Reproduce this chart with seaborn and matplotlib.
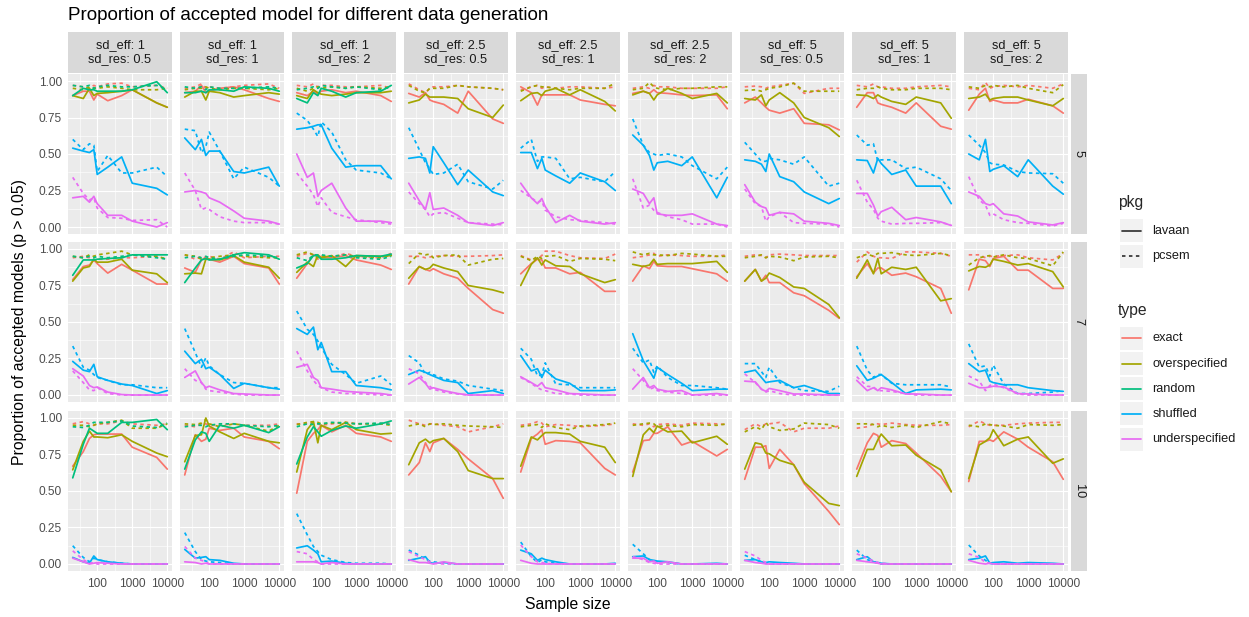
import numpy as np
import pandas as pd
import matplotlib
matplotlib.use("Agg")
import matplotlib.pyplot as plt
import seaborn as sns
from matplotlib.lines import Line2D

# ---------------- data ----------------
sample_sizes = [20, 40, 60, 80, 100, 200, 500, 1000, 5000, 10000]
n_latent = [5, 7, 10]                     # facet rows
sd_eff = [1, 1, 1, 2.5, 2.5, 2.5, 5, 5, 5]  # facet columns
sd_res = [0.5, 1, 2, 0.5, 1, 2, 0.5, 1, 2]
types = ["exact", "overspecified", "random", "shuffled", "underspecified"]
pkgs = ["lavaan", "pcsem"]

# each list: 27 panels (row-major: rows 5,7,10 x the 9 columns), 10 sample sizes each
exact_lavaan = [
    [0.90, 0.93, 0.93, 0.87, 0.91, 0.865, 0.90, 0.94, 0.85, 0.82],
    [0.92, 0.93, 0.97, 0.92, 0.93, 0.95, 0.96, 0.94, 0.88, 0.86],
    [0.92, 0.90, 0.93, 0.91, 0.93, 0.94, 0.92, 0.93, 0.90, 0.86],
    [0.915, 0.89, 0.92, 0.87, 0.86, 0.84, 0.78, 0.93, 0.74, 0.71],
    [0.96, 0.92, 0.835, 0.905, 0.905, 0.905, 0.905, 0.87, 0.84, 0.83],
    [0.915, 0.93, 0.915, 0.94, 0.92, 0.915, 0.905, 0.90, 0.905, 0.81],
    [0.85, 0.89, 0.85, 0.82, 0.80, 0.78, 0.81, 0.71, 0.70, 0.665],
    [0.82, 0.92, 0.92, 0.85, 0.84, 0.82, 0.78, 0.85, 0.69, 0.67],
    [0.80, 0.91, 0.95, 0.86, 0.87, 0.85, 0.85, 0.875, 0.83, 0.78],
    [0.79, 0.88, 0.89, 0.925, 0.90, 0.835, 0.895, 0.855, 0.76, 0.76],
    [0.87, 0.84, 0.925, 0.94, 0.93, 0.91, 0.95, 0.90, 0.87, 0.76],
    [0.80, 0.90, 0.96, 0.95, 0.94, 0.94, 0.955, 0.925, 0.89, 0.86],
    [0.76, 0.88, 0.86, 0.85, 0.865, 0.83, 0.80, 0.73, 0.585, 0.56],
    [0.83, 0.90, 0.93, 0.925, 0.87, 0.87, 0.83, 0.84, 0.71, 0.71],
    [0.78, 0.885, 0.865, 0.915, 0.885, 0.88, 0.88, 0.865, 0.83, 0.78],
    [0.78, 0.86, 0.78, 0.82, 0.77, 0.77, 0.70, 0.68, 0.58, 0.525],
    [0.81, 0.90, 0.835, 0.87, 0.87, 0.82, 0.835, 0.81, 0.73, 0.56],
    [0.72, 0.93, 0.92, 0.88, 0.935, 0.95, 0.855, 0.855, 0.73, 0.73],
    [0.67, 0.77, 0.86, 0.885, 0.89, 0.89, 0.89, 0.80, 0.73, 0.65],
    [0.61, 0.885, 0.84, 0.855, 0.93, 0.915, 0.93, 0.87, 0.84, 0.79],
    [0.485, 0.84, 0.895, 0.92, 0.95, 0.905, 0.95, 0.895, 0.87, 0.84],
    [0.61, 0.695, 0.83, 0.77, 0.83, 0.86, 0.785, 0.72, 0.585, 0.45],
    [0.63, 0.86, 0.89, 0.92, 0.82, 0.845, 0.84, 0.83, 0.655, 0.61],
    [0.63, 0.845, 0.85, 0.895, 0.895, 0.94, 0.815, 0.84, 0.74, 0.785],
    [0.58, 0.80, 0.80, 0.81, 0.655, 0.785, 0.68, 0.55, 0.36, 0.27],
    [0.65, 0.83, 0.895, 0.88, 0.80, 0.845, 0.825, 0.76, 0.60, 0.495],
    [0.565, 0.84, 0.84, 0.85, 0.84, 0.905, 0.855, 0.80, 0.70, 0.58],
]
exact_pcsem = [
    [0.97, 0.96, 0.95, 0.97, 0.96, 0.98, 0.985, 0.96, 0.97, 0.95],
    [0.95, 0.96, 0.98, 0.95, 0.96, 0.95, 0.96, 0.97, 0.98, 0.95],
    [0.97, 0.96, 0.98, 0.96, 0.97, 0.97, 0.96, 0.96, 0.97, 0.95],
    [0.98, 0.94, 0.92, 0.95, 0.96, 0.96, 0.97, 0.96, 0.95, 0.94],
    [0.94, 0.96, 0.97, 0.95, 0.96, 0.95, 0.96, 0.96, 0.95, 0.96],
    [0.95, 0.96, 0.95, 0.97, 0.96, 0.96, 0.95, 0.95, 0.95, 0.96],
    [0.96, 0.965, 0.96, 0.95, 0.96, 0.97, 0.985, 0.915, 0.95, 0.95],
    [0.97, 0.96, 0.98, 0.96, 0.96, 0.95, 0.95, 0.96, 0.97, 0.96],
    [0.95, 0.94, 0.99, 0.95, 0.96, 0.97, 0.96, 0.97, 0.95, 0.98],
    [0.94, 0.95, 0.94, 0.92, 0.93, 0.93, 0.94, 0.94, 0.95, 0.93],
    [0.96, 0.93, 0.95, 0.94, 0.95, 0.93, 0.98, 0.94, 0.95, 0.95],
    [0.95, 0.97, 0.96, 0.93, 0.95, 0.94, 0.97, 0.95, 0.94, 0.97],
    [0.95, 0.95, 0.94, 0.945, 0.95, 0.955, 0.95, 0.95, 0.955, 0.96],
    [0.955, 0.925, 0.935, 0.955, 0.985, 0.985, 0.955, 0.94, 0.935, 0.965],
    [0.94, 0.95, 0.96, 0.97, 0.95, 0.96, 0.955, 0.95, 0.95, 0.96],
    [0.95, 0.96, 0.955, 0.94, 0.96, 0.965, 0.96, 0.955, 0.955, 0.955],
    [0.91, 0.98, 0.95, 0.94, 0.94, 0.935, 0.98, 0.98, 0.97, 0.95],
    [0.96, 0.96, 0.94, 0.95, 0.95, 0.955, 0.96, 0.94, 0.925, 0.97],
    [0.96, 0.975, 0.96, 0.95, 0.96, 0.96, 0.98, 0.96, 0.95, 0.96],
    [0.95, 0.94, 0.96, 0.96, 0.95, 0.95, 0.96, 0.95, 0.95, 0.96],
    [0.96, 0.96, 0.97, 0.96, 0.95, 0.96, 0.97, 0.96, 0.96, 0.97],
    [0.985, 0.96, 0.95, 0.96, 0.96, 0.95, 0.94, 0.905, 0.94, 0.96],
    [0.95, 0.96, 0.975, 0.965, 0.94, 0.955, 0.95, 0.94, 0.95, 0.96],
    [0.96, 0.95, 0.96, 0.94, 0.955, 0.96, 0.95, 0.965, 0.96, 0.955],
    [0.92, 0.96, 0.94, 0.96, 0.96, 0.97, 0.905, 0.93, 0.93, 0.945],
    [0.93, 0.94, 0.96, 0.96, 0.955, 0.965, 0.955, 0.95, 0.95, 0.955],
    [0.94, 0.98, 0.96, 0.95, 0.95, 0.95, 0.96, 0.965, 0.97, 0.97],
]
overspecified_lavaan = [
    [0.90, 0.88, 0.95, 0.90, 0.915, 0.92, 0.93, 0.94, 0.85, 0.82],
    [0.89, 0.93, 0.93, 0.87, 0.93, 0.92, 0.89, 0.90, 0.92, 0.91],
    [0.90, 0.88, 0.94, 0.92, 0.91, 0.90, 0.91, 0.92, 0.92, 0.93],
    [0.85, 0.87, 0.91, 0.89, 0.89, 0.89, 0.88, 0.81, 0.75, 0.835],
    [0.865, 0.915, 0.92, 0.90, 0.93, 0.95, 0.905, 0.94, 0.86, 0.795],
    [0.905, 0.93, 0.915, 0.87, 0.905, 0.95, 0.915, 0.88, 0.915, 0.85],
    [0.88, 0.87, 0.905, 0.83, 0.87, 0.92, 0.85, 0.75, 0.68, 0.62],
    [0.905, 0.90, 0.88, 0.905, 0.89, 0.86, 0.84, 0.89, 0.85, 0.745],
    [0.88, 0.89, 0.91, 0.87, 0.88, 0.89, 0.89, 0.87, 0.83, 0.88],
    [0.78, 0.87, 0.88, 0.93, 0.91, 0.91, 0.93, 0.855, 0.83, 0.77],
    [0.83, 0.835, 0.83, 0.93, 0.93, 0.925, 0.955, 0.91, 0.875, 0.80],
    [0.84, 0.91, 0.88, 0.96, 0.94, 0.955, 0.88, 0.955, 0.95, 0.955],
    [0.80, 0.88, 0.86, 0.87, 0.895, 0.87, 0.845, 0.75, 0.72, 0.70],
    [0.75, 0.895, 0.94, 0.89, 0.925, 0.885, 0.88, 0.83, 0.77, 0.79],
    [0.895, 0.88, 0.89, 0.93, 0.895, 0.90, 0.90, 0.90, 0.915, 0.84],
    [0.78, 0.86, 0.78, 0.80, 0.835, 0.805, 0.74, 0.73, 0.62, 0.53],
    [0.80, 0.925, 0.83, 0.935, 0.83, 0.875, 0.86, 0.875, 0.645, 0.66],
    [0.85, 0.88, 0.875, 0.89, 0.93, 0.915, 0.89, 0.90, 0.845, 0.74],
    [0.645, 0.84, 0.91, 0.87, 0.87, 0.865, 0.885, 0.84, 0.76, 0.735],
    [0.70, 0.88, 0.885, 1.0, 0.945, 0.905, 0.86, 0.895, 0.84, 0.83],
    [0.63, 0.92, 0.975, 0.83, 0.95, 0.92, 0.97, 0.92, 0.89, 0.895],
    [0.68, 0.83, 0.855, 0.83, 0.845, 0.86, 0.77, 0.64, 0.585, 0.585],
    [0.67, 0.87, 0.85, 0.88, 0.90, 0.90, 0.89, 0.84, 0.80, 0.695],
    [0.60, 0.885, 0.93, 0.90, 0.945, 0.905, 0.91, 0.83, 0.875, 0.82],
    [0.65, 0.83, 0.82, 0.76, 0.755, 0.71, 0.68, 0.56, 0.415, 0.40],
    [0.60, 0.785, 0.785, 0.85, 0.89, 0.81, 0.815, 0.745, 0.645, 0.495],
    [0.585, 0.815, 0.84, 0.865, 0.92, 0.81, 0.855, 0.87, 0.69, 0.72],
]
overspecified_pcsem = [
    [0.95, 0.94, 0.96, 0.95, 0.95, 0.96, 0.95, 0.94, 0.94, 0.95],
    [0.94, 0.95, 0.95, 0.96, 0.95, 0.94, 0.95, 0.95, 0.94, 0.95],
    [0.95, 0.93, 0.95, 0.96, 0.95, 0.96, 0.95, 0.96, 0.95, 0.96],
    [0.97, 0.93, 0.92, 0.95, 0.95, 0.95, 0.97, 0.96, 0.95, 0.94],
    [0.93, 0.96, 0.97, 0.96, 0.96, 0.95, 0.94, 0.95, 0.95, 0.985],
    [0.94, 0.95, 0.99, 0.96, 0.95, 0.94, 0.95, 0.95, 0.96, 0.96],
    [0.935, 0.94, 0.93, 0.94, 0.95, 0.96, 0.985, 0.93, 0.93, 0.93],
    [0.94, 0.95, 0.95, 0.96, 0.95, 0.94, 0.94, 0.95, 0.95, 0.94],
    [0.96, 0.95, 0.97, 0.96, 0.97, 0.96, 0.97, 0.95, 0.92, 0.975],
    [0.95, 0.94, 0.96, 0.95, 0.96, 0.97, 0.985, 0.96, 0.95, 0.93],
    [0.96, 0.95, 0.93, 0.93, 0.94, 0.95, 0.96, 0.95, 0.94, 0.94],
    [0.96, 0.98, 0.96, 0.94, 0.95, 0.95, 0.96, 0.95, 0.94, 0.96],
    [0.90, 0.97, 0.96, 0.965, 0.94, 0.955, 0.96, 0.89, 0.93, 0.935],
    [0.95, 0.92, 0.95, 0.935, 0.95, 0.955, 0.915, 0.935, 0.93, 0.92],
    [0.98, 0.96, 0.97, 0.96, 0.96, 0.955, 0.97, 0.965, 0.95, 0.95],
    [0.94, 0.95, 0.96, 0.94, 0.95, 0.945, 0.92, 0.945, 0.95, 0.94],
    [0.94, 0.965, 0.95, 0.97, 0.97, 0.975, 0.96, 0.955, 0.97, 0.955],
    [0.89, 0.94, 0.95, 0.955, 0.945, 0.96, 0.94, 0.935, 0.885, 0.98],
    [0.95, 0.95, 0.94, 0.95, 0.96, 0.97, 0.985, 0.93, 0.93, 0.96],
    [0.96, 0.955, 0.965, 0.99, 0.96, 0.94, 0.96, 0.95, 0.91, 0.95],
    [0.955, 0.97, 0.975, 0.97, 0.96, 0.965, 0.97, 0.96, 0.96, 0.95],
    [0.945, 0.96, 0.94, 0.96, 0.955, 0.96, 0.95, 0.945, 0.94, 0.935],
    [0.94, 0.95, 0.955, 0.935, 0.96, 0.935, 0.92, 0.945, 0.955, 0.965],
    [0.95, 0.96, 0.965, 0.96, 0.94, 0.95, 0.94, 0.955, 0.95, 0.96],
    [0.905, 0.94, 0.92, 0.97, 0.94, 0.915, 0.925, 0.965, 0.955, 0.93],
    [0.96, 0.96, 0.955, 0.94, 0.95, 0.935, 0.95, 0.935, 0.975, 0.96],
    [0.95, 0.94, 0.96, 0.955, 0.95, 0.945, 0.93, 0.955, 0.95, 0.955],
]
# random only exists for sd_eff = 1 (columns 1-3), 9 panels: rows 5,7,10 x 3 columns
random_lavaan = [
    [0.90, 0.95, 0.94, 0.94, 0.93, 0.93, 0.93, 0.94, 0.995, 0.92],
    [0.92, 0.92, 0.93, 0.92, 0.94, 0.94, 0.93, 0.96, 0.95, 0.93],
    [0.88, 0.85, 0.92, 0.90, 0.95, 0.93, 0.89, 0.92, 0.93, 0.97],
    [0.82, 0.925, 0.925, 0.925, 0.93, 0.935, 0.94, 0.96, 0.96, 0.96],
    [0.77, 0.87, 0.925, 0.935, 0.925, 0.93, 0.96, 0.975, 0.96, 0.93],
    [0.87, 0.90, 0.955, 0.955, 0.93, 0.93, 0.94, 0.955, 0.95, 0.965],
    [0.59, 0.82, 0.93, 0.91, 0.895, 0.895, 0.97, 0.97, 0.99, 0.92],
    [0.65, 0.85, 0.905, 0.895, 0.84, 0.95, 0.93, 0.95, 0.90, 0.94],
    [0.685, 0.87, 0.94, 0.905, 0.875, 0.915, 0.945, 0.93, 0.96, 0.98],
]
random_pcsem = [
    [0.97, 0.96, 0.97, 0.95, 0.96, 0.97, 0.96, 0.96, 0.97, 0.94],
    [0.96, 0.95, 0.96, 0.94, 0.96, 0.95, 0.95, 0.95, 0.96, 0.95],
    [0.94, 0.95, 0.96, 0.95, 0.97, 0.96, 0.95, 0.96, 0.94, 0.96],
    [0.95, 0.94, 0.95, 0.94, 0.95, 0.94, 0.95, 0.96, 0.94, 0.93],
    [0.94, 0.95, 0.94, 0.95, 0.94, 0.93, 0.95, 0.96, 0.95, 0.94],
    [0.94, 0.92, 0.96, 0.96, 0.96, 0.95, 0.96, 0.94, 0.93, 0.95],
    [0.94, 0.935, 0.95, 0.97, 0.97, 0.97, 0.98, 0.945, 0.935, 0.965],
    [0.94, 0.95, 0.95, 0.94, 0.95, 0.96, 0.96, 0.95, 0.94, 0.95],
    [0.94, 0.96, 0.955, 0.96, 0.96, 0.97, 0.965, 0.96, 0.965, 0.955],
]
shuffled_lavaan = [
    [0.54, 0.52, 0.51, 0.53, 0.36, 0.41, 0.48, 0.30, 0.265, 0.22],
    [0.61, 0.53, 0.60, 0.49, 0.52, 0.52, 0.38, 0.37, 0.41, 0.28],
    [0.67, 0.68, 0.69, 0.70, 0.70, 0.54, 0.41, 0.42, 0.42, 0.33],
    [0.47, 0.48, 0.47, 0.37, 0.55, 0.44, 0.29, 0.39, 0.24, 0.215],
    [0.51, 0.51, 0.40, 0.47, 0.39, 0.35, 0.30, 0.37, 0.31, 0.25],
    [0.63, 0.56, 0.49, 0.39, 0.44, 0.45, 0.42, 0.48, 0.20, 0.34],
    [0.46, 0.45, 0.43, 0.38, 0.50, 0.345, 0.31, 0.24, 0.16, 0.195],
    [0.46, 0.455, 0.37, 0.47, 0.435, 0.36, 0.39, 0.28, 0.28, 0.16],
    [0.50, 0.46, 0.60, 0.38, 0.395, 0.42, 0.345, 0.46, 0.28, 0.225],
    [0.23, 0.17, 0.16, 0.21, 0.125, 0.10, 0.075, 0.065, 0.01, 0.03],
    [0.30, 0.215, 0.245, 0.18, 0.19, 0.14, 0.045, 0.08, 0.05, 0.04],
    [0.455, 0.415, 0.465, 0.31, 0.36, 0.16, 0.16, 0.065, 0.05, 0.035],
    [0.14, 0.17, 0.155, 0.14, 0.13, 0.10, 0.085, 0.01, 0.03, 0.01],
    [0.27, 0.165, 0.18, 0.12, 0.17, 0.11, 0.08, 0.03, 0.03, 0.035],
    [0.42, 0.235, 0.165, 0.115, 0.19, 0.14, 0.08, 0.03, 0.04, 0.04],
    [0.155, 0.17, 0.12, 0.085, 0.09, 0.10, 0.05, 0.065, 0.01, 0.01],
    [0.20, 0.10, 0.115, 0.13, 0.14, 0.085, 0.01, 0.035, 0.04, 0.035],
    [0.215, 0.16, 0.17, 0.095, 0.085, 0.07, 0.07, 0.05, 0.03, 0.025],
    [0.045, 0.015, 0.005, 0.055, 0.03, 0.015, 0.005, 0.0, 0.0, 0.0],
    [0.10, 0.04, 0.045, 0.05, 0.03, 0.025, 0.005, 0.0, 0.0, 0.0],
    [0.11, 0.125, 0.095, 0.07, 0.015, 0.02, 0.005, 0.0, 0.0, 0.0],
    [0.025, 0.04, 0.05, 0.01, 0.005, 0.01, 0.0, 0.0, 0.0, 0.0],
    [0.095, 0.07, 0.025, 0.04, 0.03, 0.015, 0.0, 0.0, 0.0, 0.005],
    [0.05, 0.055, 0.03, 0.025, 0.02, 0.015, 0.0, 0.0, 0.005, 0.0],
    [0.025, 0.03, 0.015, 0.01, 0.015, 0.01, 0.005, 0.0, 0.0, 0.0],
    [0.03, 0.05, 0.015, 0.01, 0.005, 0.0, 0.0, 0.0, 0.0, 0.0],
    [0.03, 0.04, 0.055, 0.005, 0.01, 0.015, 0.005, 0.01, 0.005, 0.0],
]
shuffled_pcsem = [
    [0.60, 0.53, 0.57, 0.56, 0.38, 0.49, 0.37, 0.37, 0.41, 0.345],
    [0.67, 0.66, 0.51, 0.55, 0.65, 0.52, 0.33, 0.41, 0.34, 0.28],
    [0.78, 0.73, 0.67, 0.62, 0.72, 0.65, 0.46, 0.39, 0.37, 0.33],
    [0.68, 0.53, 0.44, 0.40, 0.36, 0.37, 0.43, 0.31, 0.26, 0.32],
    [0.54, 0.60, 0.45, 0.48, 0.48, 0.47, 0.33, 0.34, 0.31, 0.38],
    [0.74, 0.56, 0.51, 0.50, 0.49, 0.50, 0.48, 0.42, 0.33, 0.41],
    [0.58, 0.50, 0.45, 0.45, 0.47, 0.46, 0.43, 0.48, 0.28, 0.30],
    [0.63, 0.56, 0.57, 0.45, 0.46, 0.46, 0.40, 0.41, 0.33, 0.25],
    [0.63, 0.56, 0.51, 0.44, 0.43, 0.425, 0.38, 0.37, 0.365, 0.30],
    [0.335, 0.19, 0.17, 0.14, 0.12, 0.10, 0.07, 0.07, 0.05, 0.05],
    [0.455, 0.29, 0.19, 0.255, 0.20, 0.14, 0.085, 0.08, 0.05, 0.05],
    [0.575, 0.45, 0.415, 0.37, 0.325, 0.21, 0.14, 0.08, 0.13, 0.07],
    [0.27, 0.22, 0.14, 0.155, 0.14, 0.11, 0.095, 0.065, 0.04, 0.03],
    [0.32, 0.245, 0.13, 0.14, 0.22, 0.075, 0.07, 0.05, 0.05, 0.05],
    [0.32, 0.22, 0.24, 0.155, 0.20, 0.12, 0.065, 0.065, 0.05, 0.04],
    [0.215, 0.215, 0.16, 0.12, 0.19, 0.085, 0.05, 0.03, 0.025, 0.06],
    [0.335, 0.17, 0.12, 0.14, 0.14, 0.08, 0.07, 0.07, 0.07, 0.055],
    [0.35, 0.19, 0.20, 0.13, 0.205, 0.075, 0.01, 0.01, 0.02, 0.03],
    [0.125, 0.045, 0.015, 0.04, 0.03, 0.015, 0.005, 0.0, 0.0, 0.0],
    [0.215, 0.085, 0.03, 0.02, 0.015, 0.01, 0.0, 0.0, 0.0, 0.0],
    [0.345, 0.20, 0.12, 0.085, 0.06, 0.03, 0.01, 0.005, 0.005, 0.0],
    [0.095, 0.06, 0.03, 0.02, 0.015, 0.005, 0.0, 0.0, 0.0, 0.0],
    [0.15, 0.05, 0.01, 0.03, 0.015, 0.005, 0.0, 0.0, 0.0, 0.0],
    [0.135, 0.07, 0.03, 0.025, 0.015, 0.01, 0.0, 0.0, 0.0, 0.0],
    [0.06, 0.03, 0.015, 0.005, 0.0, 0.0, 0.0, 0.0, 0.0, 0.0],
    [0.095, 0.03, 0.015, 0.005, 0.0, 0.0, 0.0, 0.0, 0.0, 0.0],
    [0.13, 0.055, 0.025, 0.005, 0.0, 0.0, 0.0, 0.0, 0.0, 0.0],
]
underspecified_lavaan = [
    [0.20, 0.21, 0.17, 0.21, 0.16, 0.08, 0.08, 0.04, 0.0, 0.03],
    [0.24, 0.25, 0.24, 0.23, 0.20, 0.17, 0.11, 0.06, 0.04, 0.02],
    [0.50, 0.34, 0.37, 0.21, 0.25, 0.30, 0.13, 0.04, 0.04, 0.03],
    [0.30, 0.18, 0.12, 0.235, 0.12, 0.13, 0.08, 0.03, 0.01, 0.03],
    [0.30, 0.20, 0.16, 0.195, 0.14, 0.03, 0.08, 0.04, 0.02, 0.03],
    [0.26, 0.23, 0.16, 0.20, 0.09, 0.08, 0.08, 0.09, 0.02, 0.01],
    [0.29, 0.17, 0.14, 0.13, 0.08, 0.10, 0.09, 0.04, 0.025, 0.01],
    [0.23, 0.23, 0.15, 0.075, 0.105, 0.135, 0.05, 0.065, 0.035, 0.01],
    [0.24, 0.21, 0.16, 0.15, 0.16, 0.09, 0.075, 0.035, 0.014, 0.03],
    [0.18, 0.13, 0.065, 0.05, 0.055, 0.02, 0.003, 0.0, 0.0, 0.0],
    [0.12, 0.165, 0.085, 0.05, 0.06, 0.035, 0.01, 0.007, 0.0, 0.0],
    [0.19, 0.21, 0.12, 0.10, 0.05, 0.04, 0.025, 0.02, 0.01, 0.0],
    [0.075, 0.12, 0.08, 0.04, 0.05, 0.03, 0.01, 0.0, 0.0, 0.0],
    [0.125, 0.085, 0.06, 0.085, 0.05, 0.035, 0.01, 0.007, 0.0, 0.0],
    [0.04, 0.12, 0.05, 0.065, 0.04, 0.025, 0.03, 0.0, 0.01, 0.0],
    [0.095, 0.09, 0.04, 0.025, 0.045, 0.03, 0.007, 0.007, 0.0, 0.0],
    [0.10, 0.03, 0.05, 0.03, 0.05, 0.035, 0.007, 0.007, 0.0, 0.0],
    [0.08, 0.05, 0.05, 0.055, 0.06, 0.055, 0.01, 0.007, 0.0, 0.0],
    [0.04, 0.015, 0.0, 0.005, 0.01, 0.005, 0.0, 0.0, 0.0, 0.0],
    [0.015, 0.01, 0.0, 0.005, 0.0, 0.0, 0.0, 0.0, 0.0, 0.0],
    [0.015, 0.015, 0.015, 0.01, 0.0, 0.01, 0.0, 0.0, 0.0, 0.0],
    [0.03, 0.01, 0.01, 0.005, 0.0, 0.015, 0.0, 0.0, 0.0, 0.0],
    [0.025, 0.005, 0.0, 0.0, 0.0, 0.0, 0.0, 0.0, 0.0, 0.0],
    [0.04, 0.04, 0.015, 0.02, 0.005, 0.015, 0.0, 0.0, 0.0, 0.0],
    [0.025, 0.01, 0.005, 0.0, 0.0, 0.0, 0.0, 0.0, 0.0, 0.0],
    [0.025, 0.015, 0.01, 0.005, 0.0, 0.0, 0.0, 0.0, 0.0, 0.0],
    [0.025, 0.005, 0.0, 0.005, 0.0, 0.0, 0.0, 0.0, 0.0, 0.0],
]
underspecified_pcsem = [
    [0.34, 0.23, 0.185, 0.20, 0.13, 0.065, 0.06, 0.045, 0.05, 0.0],
    [0.37, 0.25, 0.12, 0.13, 0.12, 0.07, 0.04, 0.03, 0.03, 0.02],
    [0.37, 0.28, 0.22, 0.14, 0.20, 0.10, 0.07, 0.05, 0.03, 0.02],
    [0.24, 0.16, 0.12, 0.07, 0.09, 0.10, 0.06, 0.03, 0.02, 0.015],
    [0.25, 0.20, 0.17, 0.18, 0.115, 0.07, 0.05, 0.045, 0.03, 0.02],
    [0.33, 0.13, 0.15, 0.115, 0.10, 0.07, 0.05, 0.02, 0.02, 0.0],
    [0.26, 0.16, 0.14, 0.04, 0.07, 0.10, 0.03, 0.025, 0.02, 0.0],
    [0.32, 0.17, 0.12, 0.06, 0.04, 0.02, 0.025, 0.025, 0.03, 0.015],
    [0.345, 0.185, 0.15, 0.08, 0.09, 0.05, 0.03, 0.025, 0.007, 0.025],
    [0.165, 0.085, 0.035, 0.03, 0.05, 0.01, 0.0, 0.0, 0.0, 0.0],
    [0.18, 0.10, 0.085, 0.04, 0.03, 0.02, 0.007, 0.0, 0.0, 0.0],
    [0.30, 0.165, 0.10, 0.065, 0.05, 0.02, 0.01, 0.01, 0.0, 0.0],
    [0.18, 0.145, 0.085, 0.06, 0.04, 0.02, 0.007, 0.0, 0.0, 0.0],
    [0.12, 0.08, 0.05, 0.035, 0.03, 0.01, 0.007, 0.0, 0.0, 0.0],
    [0.18, 0.10, 0.04, 0.05, 0.03, 0.02, 0.01, 0.0, 0.0, 0.0],
    [0.145, 0.085, 0.04, 0.02, 0.03, 0.01, 0.0, 0.0, 0.0, 0.0],
    [0.125, 0.06, 0.055, 0.03, 0.03, 0.025, 0.01, 0.0, 0.0, 0.0],
    [0.13, 0.095, 0.03, 0.065, 0.075, 0.05, 0.007, 0.0, 0.0, 0.0],
    [0.09, 0.03, 0.005, 0.01, 0.0, 0.0, 0.0, 0.0, 0.0, 0.0],
    [0.12, 0.04, 0.025, 0.015, 0.0, 0.0, 0.0, 0.0, 0.0, 0.0],
    [0.085, 0.07, 0.03, 0.015, 0.0, 0.0, 0.0, 0.0, 0.0, 0.0],
    [0.085, 0.05, 0.03, 0.015, 0.005, 0.0, 0.0, 0.0, 0.0, 0.0],
    [0.13, 0.05, 0.015, 0.01, 0.005, 0.0, 0.0, 0.0, 0.0, 0.0],
    [0.05, 0.03, 0.01, 0.005, 0.0, 0.0, 0.0, 0.0, 0.0, 0.0],
    [0.085, 0.055, 0.025, 0.01, 0.0, 0.0, 0.0, 0.0, 0.0, 0.0],
    [0.07, 0.04, 0.02, 0.01, 0.005, 0.0, 0.0, 0.0, 0.0, 0.0],
    [0.07, 0.045, 0.01, 0.005, 0.0, 0.0, 0.0, 0.0, 0.0, 0.0],
]

series = {
    ("exact", "lavaan"): exact_lavaan, ("exact", "pcsem"): exact_pcsem,
    ("overspecified", "lavaan"): overspecified_lavaan, ("overspecified", "pcsem"): overspecified_pcsem,
    ("shuffled", "lavaan"): shuffled_lavaan, ("shuffled", "pcsem"): shuffled_pcsem,
    ("underspecified", "lavaan"): underspecified_lavaan, ("underspecified", "pcsem"): underspecified_pcsem,
}

rows = []
for r, nl in enumerate(n_latent):
    for c in range(9):
        p = r * 9 + c
        for (t, pk), arr in series.items():
            for n, v in zip(sample_sizes, arr[p]):
                rows.append((nl, c, t, pk, n, v))
        if sd_eff[c] == 1:
            q = r * 3 + c
            for pk, arr in (("lavaan", random_lavaan), ("pcsem", random_pcsem)):
                for n, v in zip(sample_sizes, arr[q]):
                    rows.append((nl, c, "random", pk, n, v))
df = pd.DataFrame(rows, columns=["nlat", "col", "type", "pkg", "n", "prop"])

# ---------------- style ----------------
palette = {"exact": "#F8766D", "overspecified": "#A3A500", "random": "#00BF7D",
           "shuffled": "#00B0F6", "underspecified": "#E76BF3"}
dashes = {"lavaan": "", "pcsem": (2.0, 2.0)}

sns.set_theme(style="white")
plt.rcParams["font.family"] = ["Liberation Sans", "DejaVu Sans"]

W, H = 1249, 617
fig = plt.figure(figsize=(W / 100, H / 100), dpi=100)
fig.patch.set_facecolor("white")

def rect(l, t, w, h):
    return [l / W, 1 - (t + h) / H, w / W, h / H]

left0, pitch, pw = 68.0, 112.0, 104.0
tops = [73.7, 241.7, 410.7]
ph = 160.6
xmin, xmax = 10 ** 1.166, 10 ** 4.135
lw = 1.25
TICK_FS = 8.6
STRIP_FS = 9.2
LEG_FS = 9.2
TITLE_FS = 11.3

for r, nl in enumerate(n_latent):
    for c in range(9):
        ax = fig.add_axes(rect(left0 + pitch * c, tops[r], pw, ph))
        ax.set_facecolor("#EBEBEB")
        sub = df[(df.nlat == nl) & (df.col == c)]
        types_here = [t for t in types if t in sub.type.unique()]
        sns.lineplot(data=sub, x="n", y="prop", hue="type", style="pkg",
                     hue_order=types_here, style_order=pkgs,
                     palette=palette, dashes=dashes, estimator=None,
                     linewidth=lw, legend=False, ax=ax)
        ax.set_xscale("log")
        ax.set_xlim(xmin, xmax)
        ax.set_ylim(-0.05, 1.05)
        ax.set_xticks([100, 1000, 10000])
        ax.set_xticks([10 ** 1.5, 10 ** 2.5, 10 ** 3.5], minor=True)
        ax.set_yticks([0, 0.25, 0.5, 0.75, 1.0])
        ax.set_yticks([0.125, 0.375, 0.625, 0.875], minor=True)
        ax.set_xticklabels([], minor=True)
        ax.set_yticklabels([], minor=True)
        ax.grid(which="major", color="white", lw=0.8)
        ax.grid(which="minor", color="white", lw=0.4)
        ax.set_axisbelow(True)
        for s in ax.spines.values():
            s.set_visible(False)
        ax.set_xlabel("")
        ax.set_ylabel("")
        ax.tick_params(which="minor", length=0)
        ax.tick_params(which="major", length=3, width=0.8, color="#333333",
                       labelsize=TICK_FS, labelcolor="#4D4D4D", pad=1.5)
        if c == 0:
            ax.set_yticklabels(["0.00", "0.25", "0.50", "0.75", "1.00"])
        else:
            ax.tick_params(axis="y", which="major", length=0, labelleft=False)
        if r == 2:
            ax.set_xticklabels(["100", "1000", "10000"])
        else:
            ax.tick_params(axis="x", which="major", length=0, labelbottom=False)

        # top strips
        if r == 0:
            sax = fig.add_axes(rect(left0 + pitch * c, 32.0, pw, 40.7))
            sax.set_facecolor("#D9D9D9")
            sax.set_xticks([]); sax.set_yticks([])
            for s in sax.spines.values():
                s.set_visible(False)
            sax.text(0.5, 0.51, f"sd_eff: {sd_eff[c]:g}\nsd_res: {sd_res[c]:g}",
                     ha="center", va="center", fontsize=STRIP_FS, color="#1A1A1A",
                     linespacing=1.3, transform=sax.transAxes)
    # right strip
    rax = fig.add_axes(rect(1070.5, tops[r], 16.5, ph))
    rax.set_facecolor("#D9D9D9")
    rax.set_xticks([]); rax.set_yticks([])
    for s in rax.spines.values():
        s.set_visible(False)
    rax.text(0.5, 0.5, str(nl), rotation=-90, ha="center", va="center",
             fontsize=STRIP_FS, color="#1A1A1A", transform=rax.transAxes)

# titles
fig.text(68.3 / W, 1 - 15 / H, "Proportion of accepted model for different data generation",
         ha="left", va="center", fontsize=13.6, color="black")
fig.text(568 / W, 1 - 604 / H, "Sample size", ha="center", va="center",
         fontsize=TITLE_FS, color="black")
fig.text(20 / W, 1 - 322 / H, "Proportion of accepted models (p > 0.05)",
         ha="center", va="center", rotation=90, fontsize=TITLE_FS, color="black")

# legend
def key_box(y_center, line_color, ls):
    kax = fig.add_axes(rect(1120.0, y_center - 11.5, 23.0, 23.0))
    kax.set_facecolor("#F2F2F2")
    kax.set_xlim(0, 1); kax.set_ylim(0, 1)
    kax.set_xticks([]); kax.set_yticks([])
    for s in kax.spines.values():
        s.set_visible(False)
    kax.add_line(Line2D([0.1, 0.9], [0.5, 0.5], color=line_color, lw=lw,
                        linestyle=ls))

fig.text(1118 / W, 1 - 203 / H, "pkg", ha="left", va="center", fontsize=TITLE_FS)
for yc, lab, ls in [(230.5, "lavaan", "-"), (256.0, "pcsem", (0, (2.0, 2.0)))]:
    key_box(yc, "#333333", ls)
    fig.text(1152.5 / W, 1 - yc / H, lab, ha="left", va="center", fontsize=LEG_FS,
             color="#1A1A1A")

fig.text(1118 / W, 1 - 310 / H, "type", ha="left", va="center", fontsize=TITLE_FS)
for i, t in enumerate(types):
    yc = 338.3 + 25.2 * i
    key_box(yc, palette[t], "-")
    fig.text(1152.5 / W, 1 - yc / H, t, ha="left", va="center", fontsize=LEG_FS,
             color="#1A1A1A")

fig.savefig("out.png", dpi=100, facecolor="white")
